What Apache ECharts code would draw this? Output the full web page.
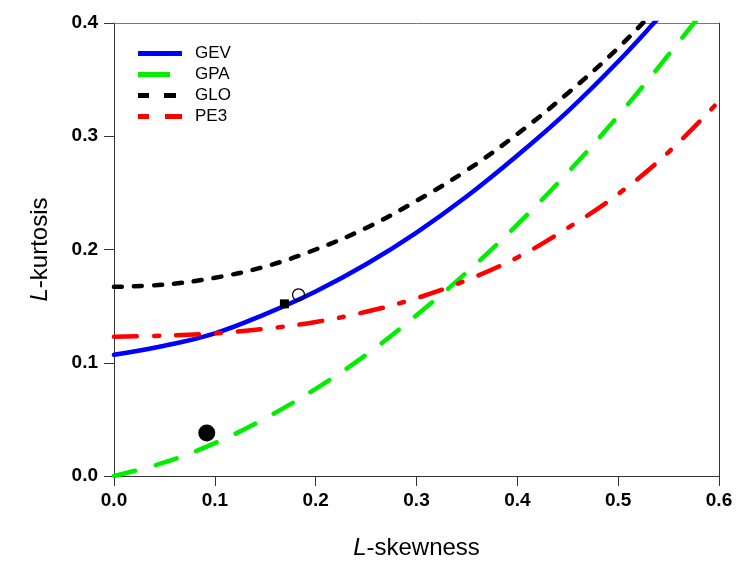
<!DOCTYPE html>
<html><head><meta charset="utf-8">
<script src="https://cdn.jsdelivr.net/npm/echarts@6/dist/echarts.min.js"></script>
<style>html,body{margin:0;padding:0;background:#fff}#c{width:740px;height:563px}</style>
</head><body><div id="c"></div>
<script>
var tau3 = [0, 0.05, 0.10, 0.15, 0.20, 0.25, 0.30, 0.35, 0.40, 0.45, 0.50, 0.55, 0.60];
var gevK = [0.107, 0.115, 0.126, 0.143, 0.163, 0.187, 0.215, 0.247, 0.283, 0.322, 0.366, 0.414, 0.46];
var gpaK = [0.000, 0.012, 0.029, 0.051, 0.077, 0.107, 0.142, 0.180, 0.222, 0.268, 0.318, 0.372, 0.428];
var gloK = [0.167, 0.169, 0.175, 0.185, 0.200, 0.219, 0.243, 0.270, 0.302, 0.338, 0.378, 0.424, 0.47];
var pe3K = [0.123, 0.124, 0.126, 0.130, 0.136, 0.145, 0.157, 0.173, 0.193, 0.219, 0.249, 0.286, 0.331];
var squarePt = [[0.169, 0.152]];
var openPt = [[0.183, 0.160]];
var dotPt = [[0.092, 0.038]];
var xTicks = [0, 0.1, 0.2, 0.3, 0.4, 0.5, 0.6];
var yTicks = [0, 0.1, 0.2, 0.3, 0.4];

function pairs(xs, ys){ return xs.map(function(x,i){return [x, ys[i]];}); }

var chart = echarts.init(document.getElementById('c'));
var font = '"Liberation Sans", Arial, sans-serif';
function lineSeries(name, ys, color, type){
  return {name:name, type:'line', data:pairs(tau3, ys), smooth:0.4, showSymbol:false, symbol:'none',
    clip:true, lineStyle:{color:color, width:4.5, type:type, cap:'round'}, itemStyle:{color:color}, z:3};
}
chart.setOption({
  animation:false,
  backgroundColor:'#fff',
  grid:{left:114, right:21, top:23, bottom:87, show:false, containLabel:false, outerBoundsMode:'none'},
  legend:{
    left:133, top:40, orient:'vertical', itemWidth:44, itemHeight:14, itemGap:4,
    textStyle:{fontFamily:font, fontSize:17, color:'#000', padding:[0,0,0,8]},
    data:[
      {name:'GEV', icon:'path://M0,0L44,0L44,5L0,5Z', itemStyle:{color:'#0000ff'}},
      {name:'GPA', icon:'path://M0,0L32,0L32,5L0,5ZM44,0L44,0.01Z', itemStyle:{color:'#00ee00'}},
      {name:'GLO', icon:'path://M0,0L11,0L11,5L0,5ZM26,0L38,0L38,5L26,5ZM44,0L44,0.01Z', itemStyle:{color:'#000'}},
      {name:'PE3', icon:'path://M0,0L11,0L11,5L0,5ZM27,0L44,0L44,5L27,5Z', itemStyle:{color:'#ff0000'}}
    ]
  },
  xAxis:[{
    type:'value', min:0, max:0.6, interval:0.1,
    name:'{i|L}-skewness', nameLocation:'middle', nameGap:60,
    nameTextStyle:{fontFamily:font, fontSize:24, color:'#000', rich:{i:{fontStyle:'italic', fontFamily:font, fontSize:24, color:'#000'}}},
    axisLine:{show:true, onZero:false, lineStyle:{color:'#333', width:1}},
    axisTick:{show:true, length:10, inside:false, lineStyle:{color:'#333'}},
    axisLabel:{fontFamily:font, fontSize:19, fontWeight:'bold', color:'#000', margin:15,
      formatter:function(v){ return xTicks.indexOf(Math.round(v*10)/10) >= 0 ? v.toFixed(1) : ''; }},
    splitLine:{show:false}
  },{
    type:'value', min:0, max:0.6, interval:0.1, position:'top',
    axisLine:{show:true, onZero:false, lineStyle:{color:'#777', width:1}},
    axisTick:{show:false}, axisLabel:{show:false}, splitLine:{show:false}
  }],
  yAxis:[{
    type:'value', min:0, max:0.4, interval:0.1,
    name:'{i|L}-kurtosis', nameLocation:'middle', nameGap:62,
    nameTextStyle:{fontFamily:font, fontSize:24, color:'#000', rich:{i:{fontStyle:'italic', fontFamily:font, fontSize:24, color:'#000'}}},
    axisLine:{show:true, onZero:false, lineStyle:{color:'#333', width:1}},
    axisTick:{show:true, length:10, lineStyle:{color:'#333'}},
    axisLabel:{fontFamily:font, fontSize:19, fontWeight:'bold', color:'#000', margin:16,
      formatter:function(v){ return yTicks.indexOf(Math.round(v*10)/10) >= 0 ? v.toFixed(1) : ''; }},
    splitLine:{show:false}
  },{
    type:'value', min:0, max:0.4, interval:0.1, position:'right',
    axisLine:{show:true, onZero:false, lineStyle:{color:'#333', width:1}},
    axisTick:{show:false}, axisLabel:{show:false}, splitLine:{show:false}
  }],
  series:[
    lineSeries('GEV', gevK, '#0000ff', 'solid'),
    lineSeries('GPA', gpaK, '#00ee00', [22, 21]),
    lineSeries('GLO', gloK, '#000000', [8, 12]),
    lineSeries('PE3', pe3K, '#ff0000', [23, 17, 5, 17]),
    {type:'scatter', data:squarePt, symbol:'rect', symbolSize:9, itemStyle:{color:'#000', opacity:1}, z:5},
    {type:'scatter', data:openPt, symbol:'circle', symbolSize:12, itemStyle:{color:'rgba(0,0,0,0)', borderColor:'#000', borderWidth:1.3, opacity:1}, z:5},
    {type:'scatter', data:dotPt, symbol:'circle', symbolSize:17, itemStyle:{color:'#000', opacity:1}, z:5}
  ]
});
</script></body></html>
